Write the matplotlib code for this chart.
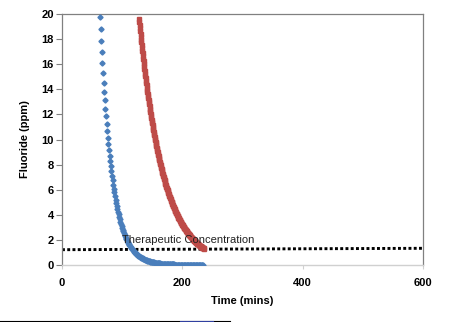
import matplotlib
matplotlib.use('Agg')
import matplotlib.pyplot as plt
import numpy as np

plt.rcParams['font.family'] = ['Liberation Sans', 'DejaVu Sans']

# fast clearance (blue), one reading per minute from 63 min
blue_t = np.arange(63, 235, 1.0)
blue_ppm = [
    19.78, 18.79, 17.85, 16.96, 16.11, 15.31, 14.54, 13.81, 13.12, 12.47,
    11.84, 11.25, 10.69, 10.15, 9.65, 9.16, 8.71, 8.27, 7.86, 7.46,
    7.09, 6.74, 6.40, 6.08, 5.78, 5.49, 5.21, 4.95, 4.70, 4.47,
    4.25, 4.03, 3.83, 3.64, 3.46, 3.29, 3.12, 2.96, 2.82, 2.68,
    2.54, 2.41, 2.29, 2.18, 2.07, 1.97, 1.87, 1.78, 1.69, 1.60,
    1.52, 1.45, 1.37, 1.30, 1.24, 1.18, 1.12, 1.06, 1.01, 0.96,
    0.91, 0.87, 0.82, 0.78, 0.74, 0.71, 0.67, 0.64, 0.60, 0.57,
    0.55, 0.52, 0.49, 0.47, 0.44, 0.42, 0.40, 0.38, 0.36, 0.34,
    0.33, 0.31, 0.29, 0.28, 0.27, 0.25, 0.24, 0.23, 0.22, 0.21,
    0.20, 0.19, 0.18, 0.17, 0.16, 0.15, 0.14, 0.14, 0.13, 0.12,
    0.12, 0.11, 0.11, 0.10, 0.10, 0.09, 0.09, 0.08, 0.08, 0.07,
    0.07, 0.07, 0.06, 0.06, 0.06, 0.05, 0.05, 0.05, 0.05, 0.04,
    0.04, 0.04, 0.04, 0.04, 0.03, 0.03, 0.03, 0.03, 0.03, 0.03,
    0.03, 0.02, 0.02, 0.02, 0.02, 0.02, 0.02, 0.02, 0.02, 0.02,
    0.01, 0.01, 0.01, 0.01, 0.01, 0.01, 0.01, 0.01, 0.01, 0.01,
    0.01, 0.01, 0.01, 0.01, 0.01, 0.01, 0.01, 0.01, 0.01, 0.01,
    0.01, 0.01, 0.01, 0.00, 0.00, 0.00, 0.00, 0.00, 0.00, 0.00,
    0.00, 0.00,
]

# slow clearance (red), one reading per half minute from 128 min
red_t = np.arange(128, 236.5, 0.5)
red_ppm = [
    19.60, 19.36, 19.11, 18.88, 18.64, 18.41, 18.18, 17.95, 17.73, 17.51,
    17.29, 17.07, 16.86, 16.65, 16.44, 16.23, 16.03, 15.83, 15.63, 15.44,
    15.25, 15.06, 14.87, 14.68, 14.50, 14.32, 14.14, 13.96, 13.79, 13.62,
    13.45, 13.28, 13.11, 12.95, 12.79, 12.63, 12.47, 12.32, 12.16, 12.01,
    11.86, 11.71, 11.57, 11.42, 11.28, 11.14, 11.00, 10.86, 10.73, 10.59,
    10.46, 10.33, 10.20, 10.07, 9.95, 9.82, 9.70, 9.58, 9.46, 9.34,
    9.23, 9.11, 9.00, 8.88, 8.77, 8.66, 8.56, 8.45, 8.34, 8.24,
    8.14, 8.03, 7.93, 7.84, 7.74, 7.64, 7.55, 7.45, 7.36, 7.27,
    7.18, 7.09, 7.00, 6.91, 6.82, 6.74, 6.66, 6.57, 6.49, 6.41,
    6.33, 6.25, 6.17, 6.09, 6.02, 5.94, 5.87, 5.80, 5.72, 5.65,
    5.58, 5.51, 5.44, 5.38, 5.31, 5.24, 5.18, 5.11, 5.05, 4.99,
    4.92, 4.86, 4.80, 4.74, 4.68, 4.62, 4.57, 4.51, 4.45, 4.40,
    4.34, 4.29, 4.23, 4.18, 4.13, 4.08, 4.03, 3.98, 3.93, 3.88,
    3.83, 3.78, 3.73, 3.69, 3.64, 3.60, 3.55, 3.51, 3.46, 3.42,
    3.38, 3.34, 3.29, 3.25, 3.21, 3.17, 3.13, 3.09, 3.05, 3.02,
    2.98, 2.94, 2.90, 2.87, 2.83, 2.80, 2.76, 2.73, 2.69, 2.66,
    2.63, 2.59, 2.56, 2.53, 2.50, 2.47, 2.44, 2.41, 2.38, 2.35,
    2.32, 2.29, 2.26, 2.23, 2.20, 2.18, 2.15, 2.12, 2.10, 2.07,
    2.04, 2.02, 1.99, 1.97, 1.94, 1.92, 1.90, 1.87, 1.85, 1.83,
    1.80, 1.78, 1.76, 1.74, 1.71, 1.69, 1.67, 1.65, 1.63, 1.61,
    1.59, 1.57, 1.55, 1.53, 1.51, 1.49, 1.47, 1.46, 1.44, 1.42,
    1.40, 1.38, 1.37, 1.35, 1.33, 1.32, 1.30,
]

thera_t = [0, 600]
thera_ppm = [1.22, 1.33]
thera_label = 'Therapeutic Concentration'

fig = plt.figure(figsize=(4.6, 3.22), dpi=100)
ax = fig.add_axes([62/460, 1-265/322, (423-62)/460, (265-14)/322])

ax.plot(thera_t, thera_ppm, color='black', lw=2.1, linestyle=(0, (1, 0.8)),
        dash_capstyle='butt', zorder=2)
ax.plot(red_t, red_ppm, linestyle='none', marker='s', ms=2.8,
        color='#be4b48', mec='#be4b48', zorder=3)
ax.plot(blue_t, blue_ppm, linestyle='none', marker='D', ms=2.6,
        color='#4a7ebb', mec='#4a7ebb', zorder=4)

ax.text(100, 1.75, thera_label, fontsize=8, color='#222222', zorder=5)

ax.set_xlim(0, 600)
ax.set_ylim(0, 20)
ax.set_xticks([0, 200, 400, 600])
ax.set_yticks(range(0, 21, 2))
for lab in ax.get_xticklabels() + ax.get_yticklabels():
    lab.set_fontweight('bold')
    lab.set_fontsize(8)
ax.tick_params(axis='y', length=4, width=0.8, color='#808080', pad=2)
ax.tick_params(axis='x', length=3, width=0.8, color='#d0d0d0', pad=6)

for s in ['top', 'left', 'right']:
    ax.spines[s].set_color('#808080')
    ax.spines[s].set_linewidth(0.9)
ax.spines['bottom'].set_color('#d0d0d0')
ax.spines['bottom'].set_linewidth(1.0)

ax.set_xlabel('Time (mins)', fontsize=8, fontweight='bold', labelpad=6)
fig.text(25/460, 1-139/322, 'Fluoride (ppm)', fontsize=8, fontweight='bold',
         rotation=90, ha='center', va='center')

# cropped edge stroke along the bottom of the original picture
fig.add_artist(plt.Line2D([0, 230/460], [1.5/322, 1.5/322], color='black', lw=0.8))
fig.add_artist(plt.Line2D([180/460, 213/460], [1.5/322, 1.5/322], color='#3040a0', lw=0.8))

fig.savefig('out.png', dpi=100)
